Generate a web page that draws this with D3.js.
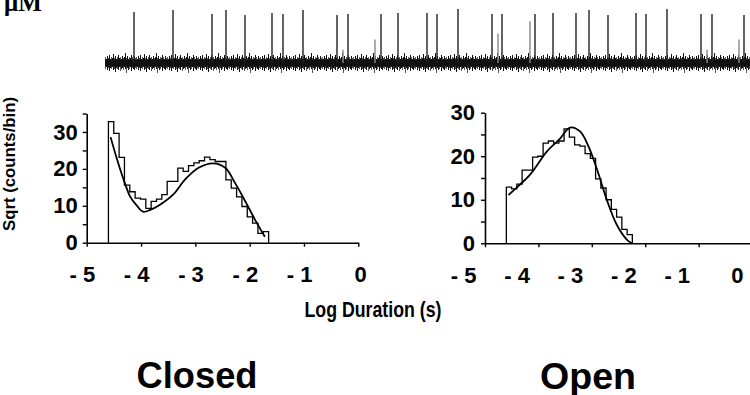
<!DOCTYPE html>
<html>
<head>
<meta charset="utf-8">
<script src="https://cdn.jsdelivr.net/npm/d3@7/dist/d3.min.js"></script>
<style>
  body { margin: 0; background: #fff; }
  svg { display: block; font-family: "Liberation Sans", Arial, sans-serif; }
</style>
</head>
<body>
<svg id="chart" width="750" height="395"></svg>
<script>
// ---- values ----
const logTicks = [-5, -4, -3, -2, -1, 0];
const binStart = -4.6;
const binWidth = 0.0983;

// sqrt(counts/bin), one value per bin
const closedCounts = [32.8, 29.6, 23.1, 15.6, 13.8, 12.1, 11.8, 9.3, 11.2, 11.8,
                      13.0, 16.6, 16.6, 20.2, 19.3, 20.9, 21.6, 22.2, 23.2, 22.5,
                      22.0, 22.0, 17.0, 14.8, 12.4, 9.8, 7.0, 5.3, 2.5, 3.0];
const openCounts = [12.9, 12.5, 13.6, 16.8, 16.8, 19.8, 20.0, 23.0, 23.5, 23.0,
                    23.5, 26.3, 24.4, 22.6, 22.3, 20.6, 19.5, 14.8, 12.7, 10.0,
                    7.8, 6.0, 3.2, 2.0];

// fitted curves (log duration, sqrt counts)
const closedFitX = [-4.56, -4.45, -4.33, -4.2, -4.08, -3.96, -3.83, -3.65, -3.41, -3.19, -2.94, -2.67, -2.45, -2.27, -2.08, -1.9, -1.72];
const closedFitY = [28.6, 23.0, 17.5, 12.5, 10.1, 8.4, 8.9, 10.3, 13.0, 17.1, 20.3, 21.5, 20.3, 16.2, 11.2, 6.2, 1.6];
const openFitX = [-4.56, -4.36, -4.16, -4.0, -3.84, -3.59, -3.41, -3.22, -3.06, -2.9, -2.72, -2.53, -2.34, -2.25];
const openFitY = [11.1, 13.3, 15.7, 18.4, 21.1, 24.1, 26.6, 25.7, 22.2, 16.9, 10.0, 4.2, 0.8, 0.0];

// single-channel record: opening times (ms) and amplitudes (pA)
const spikeTimes = [29, 68, 107, 121, 140, 167, 178, 198, 232, 238, 243, 270, 276, 293, 322, 332, 353,
                    387, 393, 397, 425, 430, 448, 471, 484, 503, 531, 541, 562, 596, 602, 607, 634, 639];
const spikeAmps = [5.0, 5.2, 4.8, 5.2, 4.7, 4.9, 4.8, 5.2, 4.7, 1.3, 4.8, 2.3, 4.8, 4.9, 4.9, 4.8, 5.3,
                   4.8, 2.9, 4.8, 4.1, 4.8, 4.9, 4.9, 5.2, 4.7, 4.9, 4.8, 5.3, 4.8, 1.3, 4.8, 2.3, 4.7];

const svg = d3.select("#chart");

// ---- current trace ----
function drawTrace() {
  const tx = d3.scaleLinear().domain([0, 645]).range([105, 750]);
  const ty = d3.scaleLinear().domain([0, 5]).range([63, 12]);

  // ragged texture for the baseline noise (styling only)
  const tops = [4, 6, 3, 5, 2, 6, 4, 5, 1, 5, 3, 6, 4, 2, 5, 4, 6, 3, 5, 4, 0, 5, 3, 6, 4, 5, 2, 4, 6, 3, 5];
  const bots = [16, 14, 17, 15, 18, 15, 16, 14, 17, 16, 19, 15, 16, 17, 14, 18, 16, 15, 17, 14, 16, 20, 15, 17, 16, 14, 18, 15, 16, 17, 15];
  const pat = svg.append("defs").append("pattern")
    .attr("id", "noise").attr("patternUnits", "userSpaceOnUse")
    .attr("x", 105).attr("y", 53).attr("width", tops.length).attr("height", 22);
  tops.forEach((t, i) => pat.append("line")
    .attr("x1", i + 0.5).attr("x2", i + 0.5)
    .attr("y1", t).attr("y2", bots[i])
    .attr("stroke", i % 3 === 0 ? "#555" : "#111").attr("stroke-width", 1));

  svg.append("rect")
    .attr("x", tx(0)).attr("y", 53).attr("width", tx(645) - tx(0)).attr("height", 22)
    .attr("fill", "url(#noise)");
  svg.append("rect")
    .attr("x", tx(0)).attr("y", ty(0) - 3.5).attr("width", tx(645) - tx(0)).attr("height", 7)
    .attr("fill", "#111");

  svg.append("g").selectAll("line")
    .data(spikeTimes)
    .enter()
    .append("line")
    .attr("x1", d => tx(d)).attr("x2", d => tx(d))
    .attr("y1", ty(0)).attr("y2", (d, i) => ty(spikeAmps[i]))
    .attr("stroke", (d, i) => spikeAmps[i] < 4.5 ? "#888" : "#222")
    .attr("stroke-width", 1.4);

  svg.append("text")
    .attr("x", 4).attr("y", 11)
    .style("font-family", "'Liberation Serif', 'Times New Roman', serif")
    .style("font-weight", "bold").style("font-size", "25px")
    .text("\u03bcM");
}

// ---- one histogram panel ----
function drawPanel(opt) {
  const x = d3.scaleLinear().domain([-5, 0]).range(opt.xRange);
  const y = d3.scaleLinear().domain([0, opt.yMax]).range(opt.yRange);
  const g = svg.append("g");

  const xAxis = g.append("g")
    .attr("transform", "translate(0," + opt.yRange[0] + ")")
    .call(d3.axisBottom(x).tickValues(logTicks).tickSize(4).tickSizeOuter(0).tickPadding(20)
      .tickFormat(d => d === 0 ? "0" : "- " + Math.abs(d)));
  xAxis.selectAll("text").attr("text-anchor", "end").attr("x", opt.labelShift);

  const yTicks = d3.range(0, opt.yMax + 1, 5);
  const yAxis = g.append("g")
    .attr("transform", "translate(" + opt.xRange[0] + ",0)")
    .call(d3.axisLeft(y).tickValues(yTicks).tickSize(4).tickSizeOuter(0).tickPadding(opt.yPad)
      .tickFormat(d => d % 10 === 0 ? d : ""));

  [xAxis, yAxis].forEach(a => {
    a.select(".domain").attr("stroke", "#000").attr("stroke-width", 1.6);
    a.selectAll(".tick line").attr("stroke", "#000").attr("stroke-width", 1.4);
    a.selectAll("text").attr("fill", "#000")
      .style("font-size", "22px").style("font-weight", "bold")
      .style("font-family", "'Liberation Sans', Arial, sans-serif");
  });

  // stepped histogram outline
  const pts = [[binStart, 0]];
  opt.counts.forEach((c, i) => pts.push([binStart + i * binWidth, c]));
  pts.push([binStart + opt.counts.length * binWidth, 0]);
  const step = d3.line().x(d => x(d[0])).y(d => y(d[1])).curve(d3.curveStepAfter);
  g.append("path").attr("d", step(pts))
    .attr("fill", "none").attr("stroke", "#000").attr("stroke-width", 1.3);

  // fitted curve
  const fit = opt.fitX.map((v, i) => [v, opt.fitY[i]]);
  const smooth = d3.line().x(d => x(d[0])).y(d => y(d[1])).curve(d3.curveCatmullRom.alpha(0.5));
  g.append("path").attr("d", smooth(fit))
    .attr("fill", "none").attr("stroke", "#000").attr("stroke-width", 1.8);
}

function addText(str, x, y, size, len, rotate) {
  const t = svg.append("text")
    .attr("text-anchor", "middle")
    .style("font-size", size + "px").style("font-weight", "bold")
    .attr("textLength", len).attr("lengthAdjust", "spacingAndGlyphs")
    .text(str);
  if (rotate) t.attr("transform", "translate(" + x + "," + y + ") rotate(-90)");
  else t.attr("x", x).attr("y", y);
}

drawTrace();

drawPanel({
  xRange: [86.7, 358.3], yRange: [242.7, 113.5], yMax: 35,
  counts: closedCounts, fitX: closedFitX, fitY: closedFitY,
  labelShift: 8, yPad: 5
});

drawPanel({
  xRange: [485, 752], yRange: [243.3, 112.7], yMax: 30,
  counts: openCounts, fitX: openFitX, fitY: openFitY,
  labelShift: -9, yPad: 6
});

addText("Sqrt (counts/bin)", 15, 164, 17, 134, true);
addText("Log Duration (s)", 373, 317, 22, 137);
addText("Closed", 197, 388, 36, 121);
addText("Open", 588, 389, 36, 96);
</script>
</body>
</html>
